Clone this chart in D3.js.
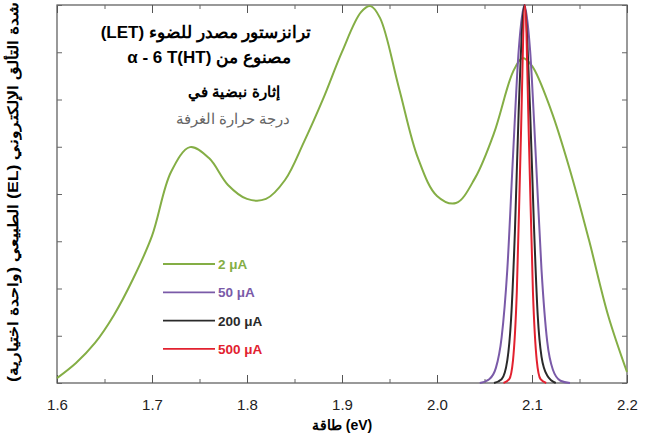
<!DOCTYPE html>
<html>
<head>
<meta charset="utf-8">
<script src="https://cdn.jsdelivr.net/npm/d3@7"></script>
<style>
  body { margin: 0; background: #fff; }
  text { font-family: "Liberation Sans", Arial, sans-serif; }
</style>
</head>
<body>
<div id="chart"></div>
<script>
// green curve, 2 uA (broad emission)
const greenE = [1.60, 1.62, 1.64, 1.66, 1.68, 1.70, 1.72, 1.74, 1.76, 1.78, 1.80, 1.82, 1.84, 1.86, 1.88, 1.90, 1.92, 1.93, 1.94, 1.96, 1.98, 2.00, 2.02, 2.04, 2.06, 2.08, 2.09, 2.10, 2.12, 2.14, 2.16, 2.18, 2.20];
const greenI = [0.013, 0.053, 0.106, 0.180, 0.275, 0.389, 0.558, 0.624, 0.595, 0.524, 0.487, 0.487, 0.537, 0.638, 0.751, 0.876, 0.981, 0.997, 0.966, 0.780, 0.595, 0.495, 0.476, 0.542, 0.661, 0.823, 0.860, 0.839, 0.722, 0.563, 0.378, 0.180, 0.029];

// narrow peaks
const purpleE = [2.045, 2.055, 2.062, 2.068, 2.074, 2.080, 2.086, 2.092, 2.098, 2.104, 2.110, 2.116, 2.122, 2.130, 2.140];
const purpleI = [0, 0.01, 0.04, 0.12, 0.30, 0.60, 0.88, 1.0, 0.88, 0.60, 0.30, 0.11, 0.035, 0.006, 0];
const blackE = [2.060, 2.068, 2.074, 2.078, 2.082, 2.086, 2.092, 2.098, 2.102, 2.106, 2.110, 2.116, 2.125];
const blackI = [0, 0.01, 0.06, 0.17, 0.40, 0.72, 1.0, 0.72, 0.42, 0.18, 0.07, 0.02, 0];
const redE = [2.070, 2.076, 2.080, 2.084, 2.088, 2.0925, 2.097, 2.101, 2.105, 2.109, 2.115];
const redI = [0, 0.01, 0.06, 0.24, 0.62, 1.0, 0.62, 0.24, 0.06, 0.01, 0];

const legendLabels = ["2 \u03bcA", "50 \u03bcA", "200 \u03bcA", "500 \u03bcA"];
const xTicks = [1.6, 1.7, 1.8, 1.9, 2.0, 2.1, 2.2];

const colors = ["#84ae45", "#7a5aa8", "#2a2a2a", "#e2212f"];

let margin = { top: 5, right: 25, bottom: 56, left: 57 },
    width = 652 - margin.left - margin.right,
    height = 439 - margin.top - margin.bottom;

let svg = d3.select("#chart")
    .append("svg")
    .attr("width", 652)
    .attr("height", 439)
    .append("g")
    .attr("transform", "translate(" + margin.left + "," + margin.top + ")");

let x = d3.scaleLinear().domain([1.6, 2.2]).range([0, width]);
let y = d3.scaleLinear().domain([0, 1]).range([height, 0]);

// frame
svg.append("rect")
    .attr("width", width).attr("height", height)
    .attr("fill", "none").attr("stroke", "#555").attr("stroke-width", 1.2);

// ticks, all pointing inward
let minor = d3.range(1.65, 2.2, 0.1);
let yTicks = d3.range(0, 1.0001, 0.125);

svg.append("g")
    .attr("transform", "translate(0," + height + ")")
    .call(d3.axisBottom(x).tickValues(xTicks).tickFormat(d3.format(".1f")).tickSizeInner(-8).tickSizeOuter(0).tickPadding(16))
    .call(g => g.select(".domain").remove())
    .call(g => g.selectAll("text").attr("font-size", 15).attr("fill", "#222"))
    .call(g => g.selectAll("line").attr("stroke", "#555"));

svg.append("g")
    .attr("transform", "translate(0," + height + ")")
    .call(d3.axisBottom(x).tickValues(minor).tickFormat("").tickSizeInner(-4).tickSizeOuter(0))
    .call(g => g.select(".domain").remove())
    .call(g => g.selectAll("line").attr("stroke", "#666"));

svg.append("g")
    .call(d3.axisTop(x).tickValues(xTicks).tickFormat("").tickSizeInner(-8).tickSizeOuter(0))
    .call(g => g.select(".domain").remove())
    .call(g => g.selectAll("line").attr("stroke", "#555"));

svg.append("g")
    .call(d3.axisTop(x).tickValues(minor).tickFormat("").tickSizeInner(-4).tickSizeOuter(0))
    .call(g => g.select(".domain").remove())
    .call(g => g.selectAll("line").attr("stroke", "#666"));

svg.append("g")
    .call(d3.axisLeft(y).tickValues(yTicks).tickFormat("").tickSizeInner(-5).tickSizeOuter(0))
    .call(g => g.select(".domain").remove())
    .call(g => g.selectAll("line").attr("stroke", "#666"));

svg.append("g")
    .attr("transform", "translate(" + width + ",0)")
    .call(d3.axisRight(y).tickValues(yTicks).tickFormat("").tickSizeInner(-5).tickSizeOuter(0))
    .call(g => g.select(".domain").remove())
    .call(g => g.selectAll("line").attr("stroke", "#666"));

// curves
let series = [
    { e: greenE, v: greenI, curve: d3.curveCatmullRom.alpha(0.5) },
    { e: purpleE, v: purpleI, curve: d3.curveMonotoneX },
    { e: blackE, v: blackI, curve: d3.curveMonotoneX },
    { e: redE, v: redI, curve: d3.curveMonotoneX }
];

series.forEach(function (s, i) {
    let line = d3.line()
        .x(function (d, j) { return x(s.e[j]); })
        .y(function (d) { return y(d); })
        .curve(s.curve);
    svg.append("path")
        .datum(s.v)
        .attr("d", line)
        .attr("fill", "none")
        .attr("stroke", colors[i])
        .attr("stroke-width", 2);
});

// legend
let legend = svg.append("g").attr("transform", "translate(106,259)");
legendLabels.forEach(function (t, i) {
    legend.append("line")
        .attr("x1", 0).attr("x2", 52)
        .attr("y1", i * 28.3).attr("y2", i * 28.3)
        .attr("stroke", colors[i]).attr("stroke-width", 1.8);
    legend.append("text")
        .attr("x", 55).attr("y", i * 28.3 + 5)
        .attr("font-size", 13.5).attr("font-weight", "bold")
        .attr("fill", colors[i])
        .text(t);
});

// annotation block (right-to-left)
let ann = svg.append("g")
    .attr("font-family", "'Liberation Serif', 'DejaVu Sans', serif")
    .attr("text-anchor", "middle")
    .attr("direction", "rtl");
ann.append("text").attr("x", 149).attr("y", 33)
    .attr("font-size", 17).attr("font-weight", "bold")
    .text("\u062a\u0631\u0627\u0646\u0632\u0633\u062a\u0648\u0631 \u0645\u0635\u062f\u0631 \u0644\u0644\u0636\u0648\u0621 (LET)");
ann.append("text").attr("x", 152).attr("y", 58)
    .attr("font-size", 17).attr("font-weight", "bold")
    .text("\u0645\u0635\u0646\u0648\u0639 \u0645\u0646 \u03b1 - 6 T(HT)\u200e");
ann.append("text").attr("x", 177).attr("y", 92)
    .attr("font-size", 15).attr("font-weight", "bold")
    .text("\u0625\u062b\u0627\u0631\u0629 \u0646\u0628\u0636\u064a\u0629 \u0641\u064a");
ann.append("text").attr("x", 176).attr("y", 119)
    .attr("font-size", 14.5).attr("fill", "#666")
    .text("\u062f\u0631\u062c\u0629 \u062d\u0631\u0627\u0631\u0629 \u0627\u0644\u063a\u0631\u0641\u0629");

// axis labels
svg.append("text")
    .attr("x", width / 2).attr("y", height + 47)
    .attr("text-anchor", "middle")
    .attr("font-size", 14).attr("font-weight", "bold")
    .attr("font-family", "'DejaVu Sans', sans-serif")
    .text("\u0637\u0627\u0642\u0629 (eV)");

svg.append("text")
    .attr("transform", "translate(-39," + (height / 2 - 2) + ") rotate(-90)")
    .attr("text-anchor", "middle")
    .attr("direction", "rtl")
    .attr("font-size", 14).attr("font-weight", "bold")
    .attr("font-family", "'DejaVu Sans', sans-serif")
    .attr("textLength", 380).attr("lengthAdjust", "spacingAndGlyphs")
    .text("\u0634\u062f\u0629 \u0627\u0644\u062a\u0623\u0644\u0642 \u0627\u0644\u0625\u0644\u0643\u062a\u0631\u0648\u0646\u064a (EL) \u0627\u0644\u0637\u0628\u064a\u0639\u064a (\u0648\u0627\u062d\u062f\u0629 \u0627\u062e\u062a\u064a\u0627\u0631\u064a\u0629)");
</script>
</body>
</html>
